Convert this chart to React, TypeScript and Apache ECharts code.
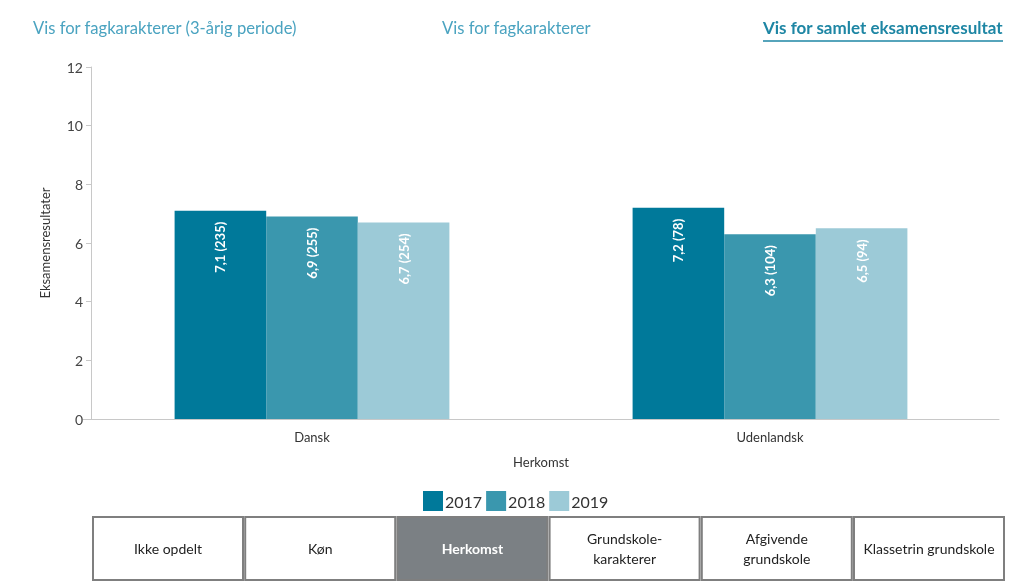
import React, { useEffect, useRef } from "react";
import * as echarts from "echarts";

const categories = ["Dansk", "Udenlandsk"];
const years = ["2017", "2018", "2019"];
const values2017 = [7.1, 7.2];
const values2018 = [6.9, 6.3];
const values2019 = [6.7, 6.5];
const counts2017 = [235, 78];
const counts2018 = [255, 104];
const counts2019 = [254, 94];
const colors = ["#00799a", "#3a97ae", "#9ccad7"];
const topLinks = ["Vis for fagkarakterer (3-årig periode)", "Vis for fagkarakterer", "Vis for samlet eksamensresultat"];
const buttons = ["Ikke opdelt", "Køn", "Herkomst", "Grundskole-\nkarakterer", "Afgivende\ngrundskole", "Klassetrin grundskole"];
const activeButton = 2;

const FONT = "Lato";

export default function App() {
  const ref = useRef<HTMLDivElement>(null);
  useEffect(() => {
    const chart = echarts.init(ref.current!, null, { renderer: "svg" });
    const valueSets = [values2017, values2018, values2019];
    const countSets = [counts2017, counts2018, counts2019];
    const series = years.map((y, i) => ({
      name: y,
      type: "bar",
      data: valueSets[i],
      barGap: "0%",
      barCategoryGap: "40%",
      itemStyle: { color: colors[i] },
      label: {
        show: true,
        position: "insideTop",
        distance: 11,
        rotate: 90,
        align: "right",
        verticalAlign: "middle",
        color: "#fff",
        fontWeight: "bold",
        fontSize: 13,
        fontFamily: FONT,
        formatter: (p: any) => `${p.value.toFixed(1).replace(".", ",")} (${countSets[i][p.dataIndex]})`,
      },
    }));

    const linkX = [33, 442, 763];
    const graphic: any[] = topLinks.map((t, i) => ({
      type: "text",
      left: i === 2 ? undefined : linkX[i],
      right: i === 2 ? 12 : undefined,
      top: 19,
      style: {
        text: t,
        fill: i === 2 ? "#1e86a4" : "#4aa3c0",
        font: `${i === 2 ? "bold 17px" : "16.6px"} ${FONT}`,
      },
    }));
    graphic.push({ type: "line", shape: { x1: 763, y1: 41, x2: 1003, y2: 41 }, style: { stroke: "#1e86a4", lineWidth: 1.5 } });

    const bx0 = 93, bw = 150, step = 152.2, by = 517, bh = 63;
    buttons.forEach((b, i) => {
      const x = bx0 + i * step;
      const active = i === activeButton;
      graphic.push({
        type: "rect",
        shape: { x, y: by, width: bw, height: bh },
        style: { fill: active ? "#7b8084" : "#fff", stroke: "#7f7f7f", lineWidth: 2 },
      });
      graphic.push({
        type: "text",
        x: x + bw / 2,
        y: by + bh / 2,
        style: {
          text: b,
          fill: active ? "#fff" : "#222",
          font: `${active ? "bold " : ""}14px ${FONT}`,
          align: "center",
          verticalAlign: "middle",
          lineHeight: 20,
        },
      });
    });

    chart.setOption({
      animation: false,
      textStyle: { fontFamily: FONT },
      grid: { left: 83, right: 16, top: 67, bottom: 163 },
      legend: {
        data: years,
        top: 486,
        left: 418,
        icon: "rect",
        itemWidth: 20,
        itemHeight: 20,
        itemGap: 4,
        textStyle: { fontSize: 16, color: "#333", fontFamily: FONT, padding: [0, 0, 0, -3] },
      },
      xAxis: {
        type: "category",
        data: categories,
        name: "Herkomst",
        nameLocation: "middle",
        nameGap: 36,
        nameTextStyle: { fontSize: 13, color: "#333" },
        axisLine: { lineStyle: { color: "#c8c8c8" } },
        axisTick: { show: false },
        axisLabel: { fontSize: 13, color: "#333", margin: 11 },
      },
      yAxis: {
        type: "value",
        min: 0,
        max: 12,
        interval: 2,
        offset: -8,
        name: "Eksamensresultater",
        nameLocation: "middle",
        nameGap: 40,
        nameTextStyle: { fontSize: 13, color: "#333" },
        axisLine: { show: true, lineStyle: { color: "#c8c8c8" } },
        axisTick: { show: true, length: 5, lineStyle: { color: "#c8c8c8" } },
        axisLabel: { fontSize: 14, color: "#444", margin: 8 },
        splitLine: { show: false },
      },
      series,
      graphic,
    });
    return () => chart.dispose();
  }, []);
  return <div ref={ref} style={{ position: "fixed", left: 0, top: 0, width: 1015, height: 582 }} />;
}
